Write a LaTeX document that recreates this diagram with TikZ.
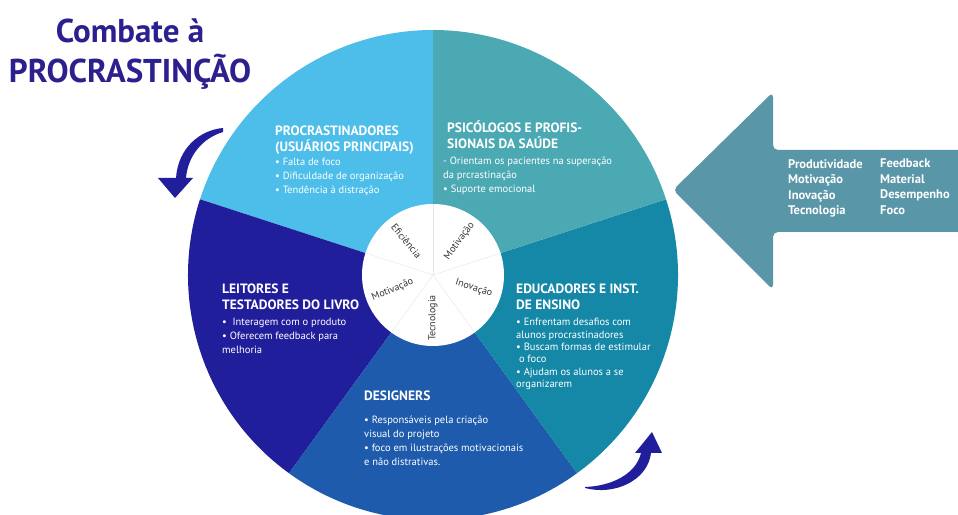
\documentclass[tikz,border=0pt]{standalone}
\usepackage{fontspec}
\setmainfont{PT Sans}
\usetikzlibrary{positioning}

\definecolor{procblue}{HTML}{4DBEE9}
\definecolor{psiteal}{HTML}{4BA9B4}
\definecolor{eduteal}{HTML}{1587A7}
\definecolor{desblue}{HTML}{1E5BAC}
\definecolor{leitblue}{HTML}{211E9C}
\definecolor{arrowteal}{HTML}{5896A8}
\definecolor{titleblue}{HTML}{2C1F8E}
\definecolor{hubgray}{HTML}{333333}

\tikzset{
  segtitle/.style={font=\bfseries\fontsize{13.5}{16}\selectfont, text=white, align=left, anchor=north west, inner sep=0pt},
  segitem/.style={font=\fontsize{10.5}{14}\selectfont, text=white, align=left, anchor=north west, inner sep=0pt},
  hublabel/.style={font=\fontsize{10}{11}\selectfont, text=hubgray, inner sep=0pt},
  kwtext/.style={font=\bfseries\fontsize{12.5}{15.5}\selectfont, text=white, align=left, anchor=north west, inner sep=0pt}
}

\begin{document}
\begin{tikzpicture}[x=1pt, y=1pt]
\useasboundingbox (0,0) rectangle (958,514);
\coordinate (hub) at (433,239);

% wheel
\fill[procblue] (hub) -- ++(90:245) arc[start angle=90, end angle=162, radius=245] -- cycle;
\fill[leitblue] (hub) -- ++(162:245) arc[start angle=162, end angle=234, radius=245] -- cycle;
\fill[desblue] (hub) -- ++(234:245) arc[start angle=234, end angle=306, radius=245] -- cycle;
\fill[eduteal] (hub) -- ++(306:245) arc[start angle=306, end angle=378, radius=245] -- cycle;
\fill[psiteal] (hub) -- ++(18:245) arc[start angle=18, end angle=90, radius=245] -- cycle;

% centre
\fill[white] (hub) circle[radius=71];
\draw[black!10] (hub) -- ++(90:71);
\draw[black!10] (hub) -- ++(162:71);
\draw[black!10] (hub) -- ++(234:71);
\draw[black!10] (hub) -- ++(306:71);
\draw[black!10] (hub) -- ++(18:71);
\node[hublabel, rotate=-50] (hubEfic) at ([shift={(128:43)}]hub) {Eficiência};
\node[hublabel, rotate=54] (hubMotivA) at ([shift={(52:43)}]hub) {Motivação};
\node[hublabel, rotate=-18] (hubInov) at ([shift={(342:43)}]hub) {Inovação};
\node[hublabel, rotate=90] (hubTecno) at ([shift={(270:43)}]hub) {Tecnologia};
\node[hublabel, rotate=22] (hubMotivB) at ([shift={(200:43)}]hub) {Motivação};

% segment texts
\node[segtitle] (procHead) at (275,388) {PROCRASTINADORES\\(USUÁRIOS PRINCIPAIS)};
\node[segitem] (procItems) at (275,356) {\textbullet\ Falta de foco\\\textbullet\ Dificuldade de organização\\\textbullet\ Tendência à distração};

\node[segtitle] (psiHead) at (447,393) {PSICÓLOGOS E PROFIS-\\SIONAIS DA SAÚDE};
\node[segitem] (psiItems) at (443,357) {- Orientam os pacientes na superação\\da prcrastinação\\\textbullet\ Suporte emocional};

\node[segtitle] (leitHead) at (222,230) {LEITORES E\\TESTADORES DO LIVRO};
\node[segitem] (leitItems) at (222,196) {\textbullet\ \ Interagem com o produto\\\textbullet\ Oferecem feedback para\\melhoria};

\node[segtitle] (eduHead) at (516,230) {EDUCADORES E INST.\\DE ENSINO};
\node[segitem, font=\fontsize{10.5}{12.4}\selectfont] (eduItems) at (516,196) {\textbullet\ Enfrentam desafios com\\alunos procrastinadores\\\textbullet\ Buscam formas de estimular\\\ o foco\\\textbullet\ Ajudam os alunos a se\\organizarem};

\node[segtitle] (desHead) at (364,123) {DESIGNERS};
\node[segitem] (desItems) at (364,98) {\textbullet\ Responsáveis pela criação\\visual do projeto\\\textbullet\ foco em ilustrações motivacionais\\e não distrativas.};

% big arrow
\fill[arrowteal, rounded corners=5pt] (673,324) -- (773,422) -- (773,364) -- (968,364) -- (968,282) -- (773,282) -- (773,224) -- cycle;
\node[kwtext] (kwLeft) at (788,355) {Produtividade\\Motivação\\Inovação\\Tecnologia};
\node[kwtext] (kwRight) at (880,355) {Feedback\\Material\\Desempenho\\Foco};

% curved arrows
\fill[leitblue] (223,386) .. controls (200,384) and (178,366) .. (176,336) -- (158,336) -- (175,316) -- (193,336) -- (186,336) .. controls (188,359) and (203,376) .. (223,382) -- cycle;
\fill[leitblue] (585,26) .. controls (615,18) and (648,34) .. (651,61) -- (662,61) -- (652,82) -- (635,61) -- (641,61) .. controls (636,40) and (612,28) .. (585,27) -- cycle;

% title
\node[font=\bfseries\fontsize{33}{40}\selectfont, text=titleblue, align=center, anchor=north, inner sep=0pt] (titleText) at (130,495) {Combate à\\PROCRASTINÇÃO};
\end{tikzpicture}
\end{document}
